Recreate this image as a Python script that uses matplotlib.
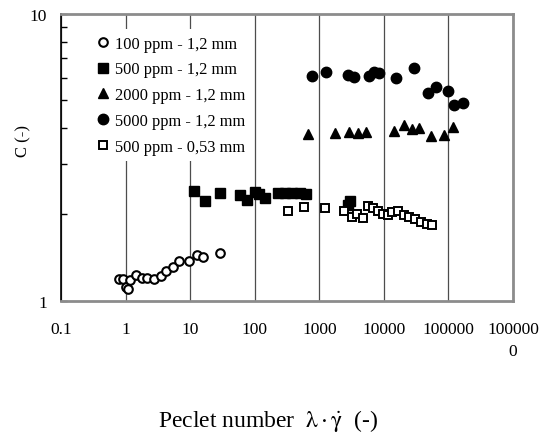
import numpy as np
import matplotlib
matplotlib.use('Agg')
import matplotlib.pyplot as plt

plt.rcParams['font.family'] = ['Liberation Serif', 'DejaVu Serif']
plt.rcParams['mathtext.fontset'] = 'stix'

#100 ppm - 1,2 mm (open circles)
pe_100 = [0.79, 0.91, 1.01, 1.10, 1.17, 1.45, 1.77, 2.12, 2.75, 3.53, 4.27, 5.36, 6.71, 9.48, 12.6, 16.0, 29.2]
c_100 = [1.184, 1.188, 1.119, 1.101, 1.179, 1.224, 1.201, 1.198, 1.188, 1.218, 1.264, 1.309, 1.371, 1.377, 1.445, 1.422, 1.461]

#500 ppm - 1,2 mm (filled squares)
pe_500 = [11.5, 16.9, 28.9, 59, 77, 101, 116, 144, 229, 293, 377, 501, 631, 2770, 2980]
c_500 = [2.416, 2.219, 2.367, 2.334, 2.243, 2.383, 2.363, 2.279, 2.373, 2.373, 2.373, 2.373, 2.354, 2.154, 2.233]

#2000 ppm - 1,2 mm (triangles)
pe_2000 = [673, 1742, 2904, 4000, 5262, 14420, 20600, 26800, 35200, 53400, 85800, 118000]
c_2000 = [3.81, 3.84, 3.88, 3.83, 3.86, 3.91, 4.10, 3.97, 4.00, 3.76, 3.79, 4.02]

#5000 ppm - 1,2 mm (filled circles)
pe_5000 = [760, 1265, 2740, 3470, 5860, 7080, 8370, 15200, 29400, 48500, 63100, 96800, 122000, 169000]
c_5000 = [6.09, 6.26, 6.14, 6.01, 6.06, 6.26, 6.21, 5.98, 6.48, 5.29, 5.55, 5.37, 4.81, 4.89]

#500 ppm - 0,53 mm (open squares)
pe_053 = [330, 583, 1222, 2405, 3162, 3780, 4680, 5710, 6830, 8160, 9750, 11660, 13160, 16650,
          20400, 24700, 30200, 37000, 45800, 54700]
c_053 = [2.058, 2.125, 2.103, 2.058, 1.952, 2.004, 1.936, 2.132, 2.098, 2.058, 2.004, 1.988, 2.032, 2.058,
         1.988, 1.952, 1.925, 1.884, 1.849, 1.835]

x_ticks = [0.1, 1, 10, 100, 1000, 10000, 100000, 1000000]
x_labels = ['0.1', '1', '10', '100', '1000', '10000', '100000', '100000\n0']

fig = plt.figure(figsize=(5.51, 4.35), dpi=100)
ax = fig.add_axes([61/551, 1-301.5/435, (513-61)/551, (301.5-15)/435])

ax.plot(pe_100, c_100, 'o', ms=6.2, mfc='white', mec='black', mew=1.5, label='100 ppm - 1,2 mm', zorder=3)
ax.plot(pe_500, c_500, 's', ms=6.5, color='black', label='500 ppm - 1,2 mm', zorder=3)
ax.plot(pe_2000, c_2000, '^', ms=7.5, color='black', label='2000 ppm - 1,2 mm', zorder=3)
ax.plot(pe_5000, c_5000, 'o', ms=7.5, color='black', label='5000 ppm - 1,2 mm', zorder=3)
ax.plot(pe_053, c_053, 's', ms=5.5, mfc='white', mec='black', mew=1.4, label='500 ppm - 0,53 mm', zorder=3)

ax.set_xscale('log')
ax.set_yscale('log')
ax.set_xlim(0.1, 1000000)
ax.set_ylim(1, 10)

#x axis: vertical gridlines, no tick marks
ax.set_xticks(x_ticks)
ax.set_xticklabels(x_labels)
ax.xaxis.set_minor_locator(matplotlib.ticker.NullLocator())
ax.tick_params(axis='x', which='major', length=0, pad=15, labelsize=12.5)
ax.get_xticklabels()[-1].set_linespacing(1.5)
ax.grid(axis='x', which='major', color='0.3', lw=0.9)
ax.set_axisbelow(True)

#y axis: only 1 and 10 labelled, minor ticks inside
ax.set_yticks([1, 10])
ax.set_yticklabels(['1', '10'])
ax.yaxis.set_minor_locator(matplotlib.ticker.LogLocator(base=10, subs=np.arange(2, 10)))
ax.yaxis.set_minor_formatter(matplotlib.ticker.NullFormatter())
ax.tick_params(axis='y', which='both', direction='in', length=4, width=1, labelsize=12.5, pad=10)

for s in ['top', 'right', 'bottom']:
    ax.spines[s].set_color('#8c8c8c')
    ax.spines[s].set_linewidth(2)
ax.spines['left'].set_color('black')
ax.spines['left'].set_linewidth(1.2)

leg = ax.legend(loc='upper left', bbox_to_anchor=(90/551, 1-30/435), bbox_transform=fig.transFigure,
                fontsize=11.8, handlelength=0.8, handletextpad=0.35, labelspacing=0.6,
                borderpad=0.4, borderaxespad=0, frameon=True, fancybox=False,
                facecolor='white', edgecolor='none', framealpha=1)

fig.text(23/551, 1-141/435, 'C (-)', rotation=90, ha='center', va='center', fontsize=12)
fig.text(268/551, 1-421/435, r'Peclet number  $\mathrm{\lambda}\cdot\dot{\mathrm{\gamma}}$  (-)',
         ha='center', va='center', fontsize=17)

fig.savefig('out.png', dpi=100)
